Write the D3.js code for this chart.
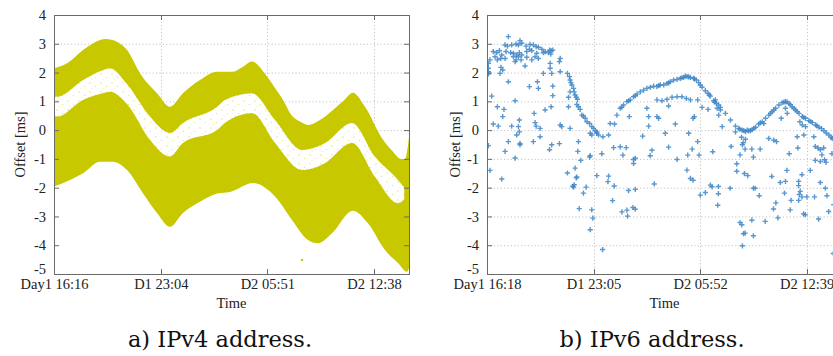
<!DOCTYPE html>
<html>
<head>
<meta charset="utf-8">
<script src="https://cdn.jsdelivr.net/npm/d3@7/dist/d3.min.js"></script>
<style>
  body { margin: 0; background: #fff; }
  svg { display: block; }
  .tick text { font-family: "Liberation Serif", "Times New Roman", serif; font-size: 14.5px; fill: #222; }
  .grid { stroke: #c4c4c4; stroke-width: 1; stroke-dasharray: 1.2 2.2; }
  .frame { fill: none; stroke: #6a6a6a; stroke-width: 1; }
  .mtick { stroke: #6a6a6a; stroke-width: 1; }
  .lbl { font-family: "Liberation Serif", "Times New Roman", serif; font-size: 14.5px; fill: #222; }
  .cap { font-family: "DejaVu Serif", serif; font-size: 22.5px; fill: #111; }
</style>
</head>
<body>
<div id="chart"></div>
<script>
// time axis in hours since the first sample, offsets in ms
const yTicks = [-5, -4, -3, -2, -1, 0, 1, 2, 3, 4];
const spanHours = 22.6;

const v4TickHours = [0, 6.8, 13.58, 20.37];
const v4TickLabels = ["Day1 16:16", "D1 23:04", "D2 05:51", "D2 12:38"];
const v6TickHours = [0, 6.783, 13.567, 20.35];
const v6TickLabels = ["Day1 16:18", "D1 23:05", "D2 05:52", "D2 12:39"];

// IPv4: the dense cloud is described by its envelope and the sparse gap inside it
const v4UpperHours = [0, 0.83, 1.85, 2.93, 3.3, 4.01, 4.65, 5.47, 6.56, 7.38, 8.21, 9.29, 10.38, 10.9, 11.39, 12.03, 12.6, 13.56, 14.07, 14.58, 15.15, 15.66, 16.2, 16.93, 17.76, 18.4, 19.03, 19.8, 20.9, 21.5, 22.1, 22.35, 22.6];
const v4UpperValues = [2.15, 2.32, 2.78, 3.13, 3.17, 3.07, 2.78, 1.98, 1.28, 0.81, 1.28, 1.74, 2.03, 2.03, 2.03, 2.2, 2.38, 1.86, 1.46, 1.05, 0.5, 0.3, 0.18, 0.35, 0.7, 1.0, 1.3, 0.81, -0.3, -0.7, -1.0, -1.0, -0.25];
const v4LowerHours = [0, 1.02, 1.85, 2.93, 3.76, 4.65, 5.67, 6.56, 7.38, 8.21, 9.29, 10.38, 11.2, 12.67, 14.07, 15.15, 16.17, 16.8, 17.7, 19.03, 19.99, 21.07, 21.9, 22.47, 22.6];
const v4LowerValues = [-1.96, -1.73, -1.5, -1.1, -1.1, -1.39, -2.2, -2.88, -3.36, -2.88, -2.49, -2.2, -2.15, -1.84, -2.31, -3.12, -3.82, -3.93, -3.58, -2.8, -3.24, -4.17, -4.62, -4.92, -4.8];
const v4GapHours = [0, 0.19, 1.85, 3.12, 3.56, 4.65, 6.11, 7.38, 8.21, 10.38, 10.88, 12.6, 14.07, 15.79, 17.25, 18.97, 20.43, 21.9, 22.3];
const v4GapTop = [1.16, 1.16, 1.74, 2.09, 2.15, 1.6, 0.47, -0.1, 0.25, 0.81, 1.05, 1.28, 0.35, -0.69, -0.45, 0.25, -0.92, -1.73, -2.0];
const v4GapBottom = [0.5, 0.47, 1.05, 1.28, 1.33, 0.9, -0.34, -0.92, -0.45, 0.0, 0.25, 0.59, -0.45, -1.39, -1.15, -0.45, -1.62, -2.54, -2.4];
const v4Outliers = [[15.79, -4.51]];

// IPv6: individual samples [hours, offset]
const v6Points = [
  [1.36,3.25],[2.10,3.11],[1.15,2.96],[1.30,2.92],[1.57,2.96],[1.85,2.99],[2.00,2.96],[2.21,3.02],[2.49,2.92],[2.74,2.98],[2.95,2.96],[3.13,2.90],[3.27,2.88],[3.49,2.81],
  [0.40,2.73],[0.62,2.69],[0.79,2.76],[0.94,2.61],[1.21,2.73],[1.51,2.69],[1.68,2.67],[1.89,2.61],[2.06,2.69],[2.21,2.61],[2.53,2.73],[2.70,2.81],[2.85,2.76],[3.17,2.67],[3.70,2.73],[3.91,2.69],[4.08,2.76],[4.19,2.78],
  [0.51,2.55],[0.66,2.44],[0.87,2.49],[1.15,2.49],[1.68,2.55],[1.85,2.44],[2.00,2.55],[2.17,2.44],[2.53,2.53],[2.85,2.44],[3.06,2.55],[3.27,2.49],[3.59,2.69],[3.98,2.78],[4.06,2.64],
  [0.09,2.32],[0.19,2.44],[0.09,2.15],[0.09,2.03],[0.09,1.95],[0.89,2.18],[1.00,2.09],[0.83,1.97],[1.79,2.38],[2.42,2.23],[4.02,2.32],[4.66,2.49],[4.61,2.38],[4.66,2.03],
  [5.12,1.97],[5.25,1.86],[5.29,1.74],[5.34,1.65],[5.40,1.57],[5.51,1.45],[5.55,1.33],[5.61,1.22],[5.68,1.14],[5.76,1.07],[5.72,0.89],[5.82,0.81],[5.93,0.72],[6.04,0.52],[6.14,0.49],[6.25,0.41],[6.36,0.29],[6.53,0.23],[6.67,0.12],[6.78,0.06],[6.89,-0.02],[6.99,-0.11],
  [4.12,1.97],[4.02,2.15],[3.59,1.97],[1.36,1.68],[2.70,1.51],[3.27,1.45],[3.21,1.68],[4.19,1.53],[4.19,1.20],[0.30,1.18],[1.79,1.02],[3.70,0.70],[4.08,0.81],[5.19,1.14],[5.29,1.33],[0.66,0.81],[1.08,0.72],[5.19,0.81],[1.00,0.47],[3.00,0.58],[0.40,0.21],[0.72,0.14],[1.57,0.14],[2.06,0.35],[2.00,0.12],[2.06,-0.06],[1.89,-0.17],[3.06,0.26],[3.13,0.14],[3.38,0.06],[4.66,0.18],[4.76,0.12],[5.29,0.06],[6.57,-0.11],[6.67,-0.17],[1.36,-0.40],[2.10,-0.46],[2.95,-0.40],[3.38,-0.23],[5.82,-0.40],[7.10,-0.17],
  [0.09,-0.54],[1.15,-0.74],[1.79,-0.97],[2.10,-0.51],[3.98,-0.68],[4.12,-0.51],[4.61,-0.47],[5.78,-0.74],[5.97,-1.05],[6.53,-0.94],[6.57,-0.89],[0.19,-1.40],[0.94,-1.70],[5.12,-1.49],[5.61,-1.32],[5.72,-1.63],[5.68,-1.66],[5.55,-1.90],[5.51,-1.98],[5.46,-1.95],[6.31,-1.98],[6.14,-2.19],[5.87,-2.73],[6.67,-2.77],[6.74,-3.06],[6.57,-3.46],[6.99,-1.58],[7.31,-0.82],[7.36,-4.15],
  [6.99,-0.06],[7.38,-0.23],[7.74,-0.17],[7.84,0.23],[8.12,0.21],[8.27,0.52],[8.48,0.76],[8.69,0.87],[8.91,0.99],[9.12,1.05],[9.33,1.16],[9.55,1.25],[9.76,1.33],[9.97,1.39],[10.18,1.45],[10.40,1.49],[10.61,1.53],[10.82,1.51],[11.03,1.57],[11.25,1.57],[11.46,1.62],[11.67,1.68],[11.88,1.74],[12.10,1.76],[12.31,1.80],[12.52,1.83],[12.73,1.86],[12.95,1.83],[13.16,1.80],[13.33,1.74],[13.48,1.65],[13.69,1.49],[13.90,1.37],[14.07,1.28],[14.22,1.18],[14.43,1.02],[14.60,0.93],[14.75,0.87],[14.86,0.79],[15.18,0.58],[15.50,0.35],[15.82,0.14],[16.03,0.06],[16.24,0.00],[16.35,-0.02],[16.56,0.00],[16.77,-0.02],[16.99,0.06],[17.30,0.21],[17.52,0.29],[17.73,0.41],[17.94,0.52],[18.15,0.64],[18.37,0.76],[18.58,0.87],[18.79,0.95],[19.00,0.99],[19.22,0.93],[19.43,0.81],[19.64,0.70],[19.86,0.58],[20.07,0.47],[20.28,0.41],[20.49,0.33],[20.71,0.26],[20.92,0.18],[21.13,0.10],[21.45,-0.02],[21.77,-0.17],[21.98,-0.29],
  [12.63,1.88],[12.84,1.85],[12.41,1.82],[11.56,1.64],[10.93,1.55],[9.44,1.20],[9.02,1.02],[8.58,0.80],[13.20,1.78],[13.58,1.57],[14.15,1.22],[14.50,0.97],[16.10,0.03],[16.45,-0.05],[16.66,-0.03],[16.88,0.02],[17.10,0.10],[17.40,0.25],[18.05,0.58],[18.26,0.70],[18.90,0.97],[19.10,0.98],[19.32,0.88],[19.54,0.75],[19.75,0.64],[20.17,0.44],[20.60,0.30],[21.00,0.15],[21.30,0.05],[21.60,-0.10],[21.90,-0.25],
  [15.82,-0.06],[16.20,-0.25],[16.31,-0.44],[16.45,-0.32],
  [10.82,1.05],[11.14,1.02],[11.46,1.07],[11.78,1.14],[12.10,1.16],[12.41,1.16],[12.69,1.10],[12.95,1.05],
  [8.06,-0.61],[8.48,-0.58],[8.65,-0.87],[8.86,-0.61],[9.06,0.47],[9.33,-1.02],[9.33,-1.16],[9.44,-0.98],[9.91,-0.21],[10.29,0.14],[10.18,0.76],[10.29,0.47],[10.82,0.47],[10.93,0.41],[11.35,-0.11],[11.56,0.84],[11.99,0.21],[12.10,-1.02],[12.78,-0.87],[12.73,-1.39],[12.84,-0.11],[13.12,0.41],[13.20,0.47],[13.41,1.05],[13.41,-0.40],[13.50,-0.87],[13.69,0.79],[14.07,0.72],[14.37,-0.75],[14.54,1.05],[14.65,0.76],[14.75,0.52],[14.86,0.70],[14.97,0.12],[17.62,0.23],[17.94,-0.29],[18.26,-0.35],[18.43,-0.40],[18.73,0.41],[19.00,0.76],[19.11,0.58],[19.75,-0.23],[20.17,-0.17],[19.92,0.29],[20.07,0.18],[20.28,0.12],[20.81,-0.23],
  [7.70,-1.79],[7.74,-1.60],[8.10,-1.94],[7.99,-2.45],[8.59,-2.84],[8.91,-2.78],[8.95,-2.99],[9.01,-2.10],[9.29,-2.69],[9.44,-2.06],[9.44,-2.75],[10.65,-1.87],[12.95,-1.68],[13.12,-1.74],[13.58,-2.26],[13.90,-2.17],[14.22,-1.91],[14.33,-1.97],[14.69,-2.61],
  [10.39,-0.89],[10.50,-0.70],[11.56,-0.59],[13.06,-0.66],
  [15.54,-0.57],[16.26,-0.51],[16.43,-0.66],[16.86,-0.66],[17.39,-0.66],[16.11,-0.86],[16.96,-0.94],[19.24,-0.82],[19.79,-0.62],[20.90,-0.57],[21.07,-0.62],[21.22,-0.68],[21.43,-0.62],[21.32,-0.86],[20.90,-1.05],[21.22,-1.09],[21.49,-1.03],[21.58,-1.12],[20.58,-1.40],[21.96,-0.82],[15.90,-1.17],[15.90,-1.43],[16.39,-1.51],[16.60,-1.58],[18.13,-1.61],[19.09,-1.40],[18.67,-1.82],[19.00,-1.78],[20.05,-1.55],[19.84,-1.78],[19.84,-1.93],[21.22,-1.82],[21.54,-2.02],[14.73,-1.96],[14.73,-2.21],[15.48,-2.02],[16.96,-2.02],[17.07,-2.02],[17.33,-2.28],[18.94,-2.19],[19.94,-2.13],[19.88,-2.24],[20.05,-2.32],[20.36,-2.32],[20.85,-2.32],[21.64,-2.28],[18.39,-2.53],[19.36,-2.44],[19.84,-2.44],[22.07,-2.59],[18.24,-2.74],[18.52,-3.05],[19.30,-2.77],[20.15,-2.91],[20.26,-2.94],[21.11,-3.09],[21.75,-2.83],[17.71,-3.17],[16.86,-3.13],[16.11,-3.21],[16.22,-3.29],[16.33,-3.60],[16.43,-3.58],[16.96,-3.67],[16.26,-4.02],[22.05,-4.29]
];

const yellow = "#c8c800";
const blue = "#3d86c6";

const width = 833, height = 356;
const plotTop = 15, plotBottom = 274;

const svg = d3
  .select("#chart")
  .append("svg")
  .attr("width", width)
  .attr("height", height);

svg.append("rect").attr("width", width).attr("height", height).attr("fill", "#fff");

const defs = svg.append("defs");

// sparse speckles for the thin band inside the IPv4 cloud
const speckle = defs
  .append("pattern")
  .attr("id", "speckle")
  .attr("width", 11)
  .attr("height", 9)
  .attr("patternUnits", "userSpaceOnUse");
speckle.append("rect").attr("width", 11).attr("height", 9).attr("fill", "#fff");
[[2, 2, 0.7], [7.5, 5.5, 0.6], [4, 7.5, 0.45]].forEach((c) => {
  speckle
    .append("circle")
    .attr("cx", c[0])
    .attr("cy", c[1])
    .attr("r", c[2])
    .attr("fill", yellow)
    .attr("opacity", 0.6);
});

const y = d3.scaleLinear().domain([-5, 4]).range([plotBottom, plotTop]);

function makePanel(id, x0, x1, tickHours) {
  const x = d3.scaleLinear().domain([0, spanHours]).range([x0, x1]);
  const g = svg.append("g");

  defs
    .append("clipPath")
    .attr("id", "clip-" + id)
    .append("rect")
    .attr("x", x0)
    .attr("y", plotTop)
    .attr("width", x1 - x0)
    .attr("height", plotBottom - plotTop);

  g.append("g")
    .selectAll("line")
    .data(yTicks.filter((d) => d > -5 && d < 4))
    .join("line")
    .attr("class", "grid")
    .attr("x1", x0)
    .attr("x2", x1)
    .attr("y1", (d) => y(d) + 0.5)
    .attr("y2", (d) => y(d) + 0.5);

  g.append("g")
    .selectAll("line")
    .data(tickHours.filter((d) => d > 0))
    .join("line")
    .attr("class", "grid")
    .attr("x1", (d) => Math.round(x(d)) + 0.5)
    .attr("x2", (d) => Math.round(x(d)) + 0.5)
    .attr("y1", plotTop)
    .attr("y2", plotBottom);

  const plot = g.append("g").attr("clip-path", "url(#clip-" + id + ")");
  return { g, x, plot, x0, x1 };
}

function finishPanel(p, tickHours, tickLabels, yLabelX) {
  const { g, x, x0, x1 } = p;

  g.append("rect")
    .attr("class", "frame")
    .attr("x", x0 + 0.5)
    .attr("y", plotTop + 0.5)
    .attr("width", x1 - x0)
    .attr("height", plotBottom - plotTop);

  // inward mirrored ticks
  const ticks = g.append("g");
  tickHours.forEach((h) => {
    const px = Math.round(x(h)) + 0.5;
    ticks.append("line").attr("class", "mtick").attr("x1", px).attr("x2", px).attr("y1", plotBottom).attr("y2", plotBottom - 5);
    ticks.append("line").attr("class", "mtick").attr("x1", px).attr("x2", px).attr("y1", plotTop).attr("y2", plotTop + 5);
  });
  yTicks.forEach((v) => {
    const py = y(v) + 0.5;
    ticks.append("line").attr("class", "mtick").attr("x1", x0).attr("x2", x0 + 5).attr("y1", py).attr("y2", py);
    ticks.append("line").attr("class", "mtick").attr("x1", x1 - 5).attr("x2", x1).attr("y1", py).attr("y2", py);
  });

  const xAxisG = g
    .append("g")
    .attr("transform", "translate(0," + plotBottom + ")")
    .call(
      d3
        .axisBottom(x)
        .tickValues(tickHours)
        .tickFormat((d, i) => tickLabels[i])
        .tickSize(0)
        .tickPadding(5)
    );
  xAxisG.select(".domain").remove();

  const yAxisG = g
    .append("g")
    .attr("transform", "translate(" + x0 + ",0)")
    .call(
      d3
        .axisLeft(y)
        .tickValues(yTicks)
        .tickFormat((d) => String(d))
        .tickSize(0)
        .tickPadding(8)
    );
  yAxisG.select(".domain").remove();
  // lowest label sits a little higher so it clears the time labels
  yAxisG.selectAll(".tick text").filter((d) => d === -5).attr("dy", "-0.05em");

  g.append("text")
    .attr("class", "lbl")
    .attr("x", (x0 + x1) / 2)
    .attr("y", 308)
    .attr("text-anchor", "middle")
    .text("Time");

  g.append("text")
    .attr("class", "lbl")
    .attr("transform", "translate(" + yLabelX + "," + (plotTop + plotBottom) / 2 + ") rotate(-90)")
    .attr("text-anchor", "middle")
    .text("Offset [ms]");
}

// ---- a) IPv4 ----
const left = makePanel("v4", 54, 409, v4TickHours);

const edgeLine = d3
  .line()
  .x((d) => left.x(d[0]))
  .y((d) => y(d[1]))
  .curve(d3.curveMonotoneX);

const upperPts = d3.zip(v4UpperHours, v4UpperValues);
const lowerPts = d3.zip(v4LowerHours, v4LowerValues);

left.plot
  .append("path")
  .attr("d", edgeLine(upperPts) + "L" + left.x(spanHours) + "," + y(-5) + "L" + left.x(0) + "," + y(-5) + "Z")
  .attr("fill", yellow);

// white out everything under the lower envelope
left.plot
  .append("path")
  .attr("d", edgeLine(lowerPts) + "L" + left.x(spanHours) + "," + (plotBottom + 5) + "L" + left.x(0) + "," + (plotBottom + 5) + "Z")
  .attr("fill", "#fff");

const gapArea = d3
  .area()
  .x((d) => left.x(d[0]))
  .y0((d) => y(d[2]))
  .y1((d) => y(d[1]))
  .curve(d3.curveMonotoneX);

left.plot
  .append("path")
  .attr("d", gapArea(d3.zip(v4GapHours, v4GapTop, v4GapBottom)))
  .attr("fill", "url(#speckle)")
  .attr("stroke", yellow)
  .attr("stroke-width", 1)
  .attr("stroke-dasharray", "1 3")
  .attr("stroke-opacity", 0.5);

left.plot
  .selectAll("circle.out")
  .data(v4Outliers)
  .join("circle")
  .attr("class", "out")
  .attr("cx", (d) => left.x(d[0]))
  .attr("cy", (d) => y(d[1]))
  .attr("r", 1.2)
  .attr("fill", yellow);

finishPanel(left, v4TickHours, v4TickLabels, 25);

// ---- b) IPv6 ----
const right = makePanel("v6", 487, 842, v6TickHours);

right.plot
  .selectAll("path.pt")
  .data(v6Points)
  .join("path")
  .attr("class", "pt")
  .attr("transform", (d) => "translate(" + right.x(d[0]) + "," + y(d[1]) + ")")
  .attr("d", "M-2.6,0H2.6M0,-2.6V2.6")
  .attr("stroke", blue)
  .attr("stroke-width", 1.4)
  .attr("opacity", 0.85);

finishPanel(right, v6TickHours, v6TickLabels, 460);

// captions
svg.append("text").attr("class", "cap").attr("x", 220).attr("y", 347).attr("text-anchor", "middle").text("a) IPv4 address.");
svg.append("text").attr("class", "cap").attr("x", 652).attr("y", 347).attr("text-anchor", "middle").text("b) IPv6 address.");
</script>
</body>
</html>
